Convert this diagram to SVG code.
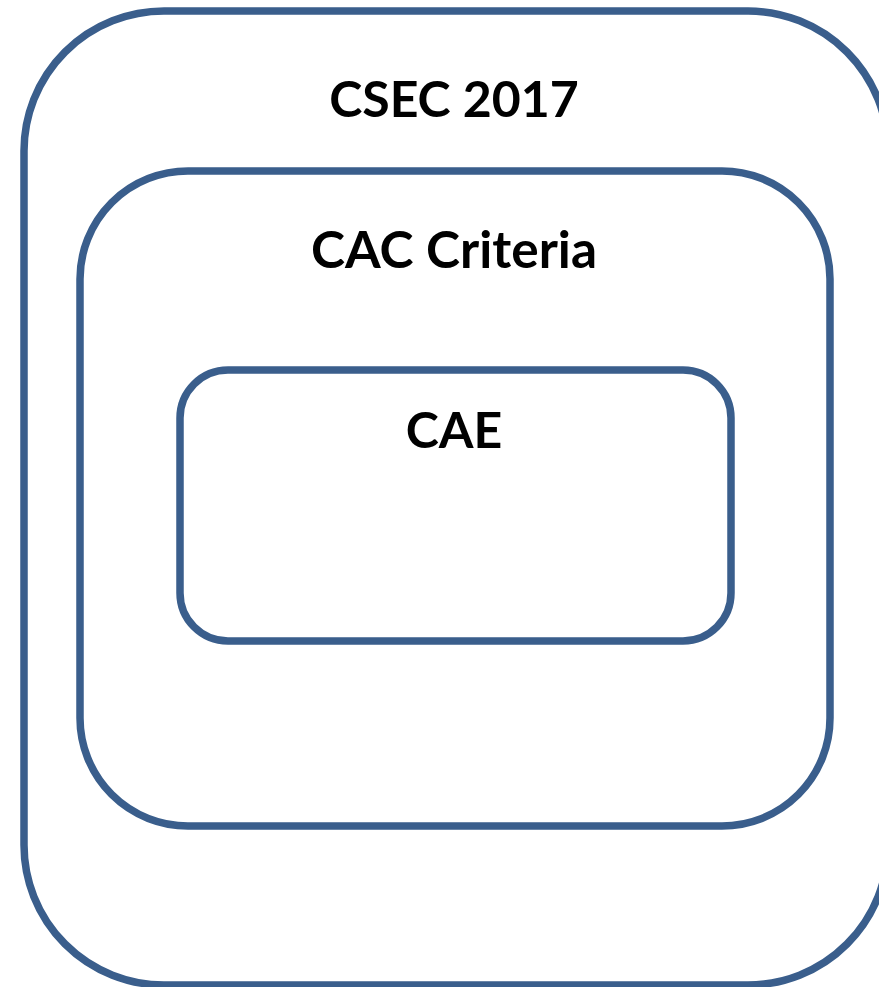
<svg xmlns="http://www.w3.org/2000/svg" width="879" height="987" viewBox="0 0 879 987">
<style>
.box{fill:#fff;stroke:#3A5E8C;stroke-width:7.5}
.lbl{font-family:Lato,"Open Sans","Liberation Sans",sans-serif;font-weight:bold;fill:#000;text-anchor:middle}
</style>
<rect width="879" height="987" fill="#fff"/>
<g id="csec2017">
<rect class="box" x="24" y="11" width="864" height="974" rx="140" ry="140"/>
<text class="lbl" x="454" y="117" font-size="50">CSEC 2017</text>
</g>
<g id="cac-criteria">
<rect class="box" x="80" y="171" width="750" height="655" rx="108" ry="108"/>
<text class="lbl" x="454" y="268" font-size="51" textLength="286" lengthAdjust="spacingAndGlyphs">CAC Criteria</text>
</g>
<g id="cae">
<rect class="box" x="180" y="370" width="551" height="271" rx="48" ry="48"/>
<text class="lbl" x="454" y="448" font-size="50">CAE</text>
</g>
<g id="connectors"/>
</svg>
